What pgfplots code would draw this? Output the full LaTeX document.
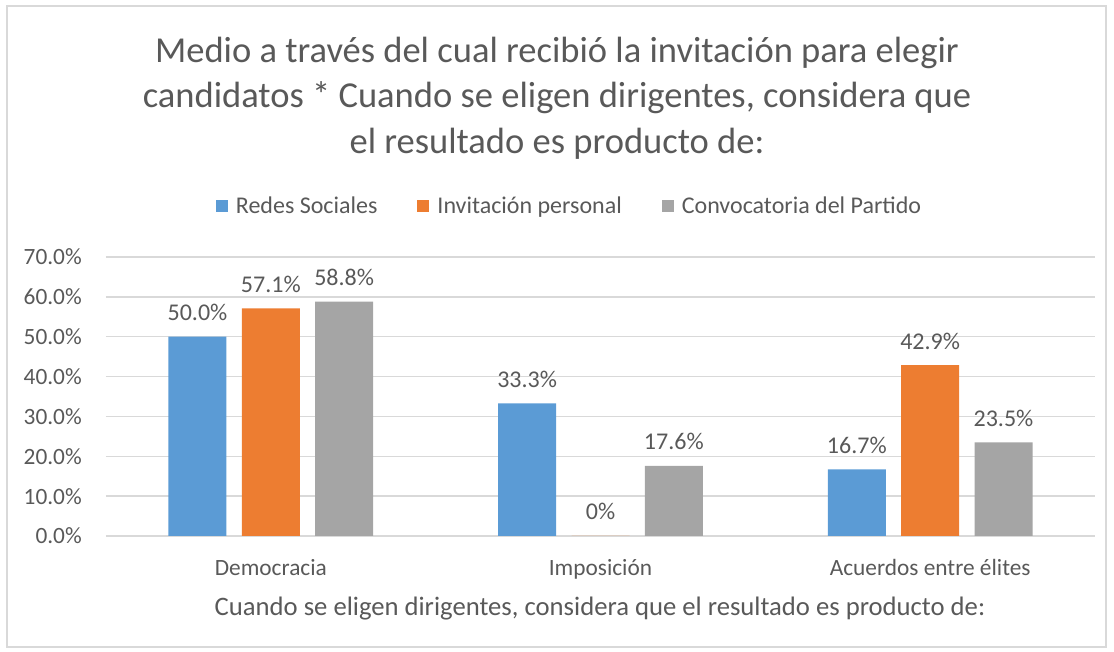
\documentclass[border=0pt]{standalone}
\usepackage{pgfplots}
\pgfplotsset{compat=1.18}
\usepackage{fontspec}
\setmainfont{Carlito}
\definecolor{cBlue}{HTML}{5B9BD5}
\definecolor{cOrange}{HTML}{ED7D31}
\definecolor{cGray}{HTML}{A5A5A5}
\definecolor{txt}{HTML}{595959}
\definecolor{gridc}{HTML}{D9D9D9}
\pgfplotsset{
  sq/.style={legend image code/.code={\draw[##1,draw=none] (0pt,-4.5pt) rectangle (9pt,4.5pt);}},
}
\begin{document}
\begin{tikzpicture}[x=0.75pt,y=0.75pt]
\useasboundingbox (-106,-116) rectangle (1008,536);
\draw[gridc, line width=0.9pt] (-99,-111) rectangle (1000,530);
\node[anchor=base, text=txt, font=\fontsize{27.4}{33}\selectfont] at (451,473) {Medio a través del cual recibió la invitación para elegir};
\node[anchor=base, text=txt, font=\fontsize{27.4}{33}\selectfont] at (451,428) {candidatos * Cuando se eligen dirigentes, considera que};
\node[anchor=base, text=txt, font=\fontsize{27.4}{33}\selectfont] at (451,382) {el resultado es producto de:};
\begin{axis}[
  at={(0,0)}, anchor=south west,
  scale only axis, width=741.75pt, height=209.25pt,
  ybar, bar width=43.5pt,
  xmin=-0.5, xmax=2.5, ymin=0, ymax=70,
  xtick={0,1,2}, xticklabels={Democracia,Imposición,Acuerdos entre élites},
  ytick={0,10,...,70},
  yticklabel={\pgfmathprintnumber[assume math mode=true,fixed,fixed zerofill,precision=1]{\tick}\%},
  axis line style={draw=none}, major tick length=0pt,
  ymajorgrids, xmajorgrids=false, grid style={draw=gridc, line width=1pt},
  tick label style={text=txt, font=\fontsize{17.5}{21}\selectfont},
  xticklabel style={anchor=base, yshift=-29.8pt, inner sep=0pt},
  yticklabel style={anchor=east, inner sep=0pt, xshift=-18pt},
  xlabel={Cuando se eligen dirigentes, considera que el resultado es producto de:},
  xlabel style={at={(axis description cs:0.4995,0)}, anchor=base, yshift=-59.8pt, inner sep=0pt, text=txt, font=\fontsize{20}{24}\selectfont},
  legend columns=3,
  legend style={at={(0.469,1.183)}, anchor=center, draw=none, fill=none, text=txt, font=\fontsize{18}{22}\selectfont,
    /tikz/every even column/.append style={column sep=28pt},
    /tikz/every odd column/.append style={column sep=4pt}, inner sep=0pt},
  legend cell align=left,
  point meta=explicit symbolic,
  nodes near coords={\pgfplotspointmeta},
  every node near coord/.append style={text=txt, font=\fontsize{18}{22}\selectfont, anchor=base, yshift=12pt},
]
\addplot[fill=cBlue, draw=none, bar shift=-55pt, sq] coordinates {(0,50.0)[50.0\%] (1,33.3)[33.3\%] (2,16.7)[16.7\%]};
\addplot[fill=cOrange, draw=none, bar shift=0pt, sq] coordinates {(0,57.1)[57.1\%] (1,0)[0\%] (2,42.9)[42.9\%]};
\addplot[fill=cGray, draw=none, bar shift=55pt, sq] coordinates {(0,58.8)[58.8\%] (1,17.6)[17.6\%] (2,23.5)[23.5\%]};
\legend{Redes Sociales, Invitación personal, Convocatoria del Partido}
\end{axis}
\end{tikzpicture}
\end{document}
